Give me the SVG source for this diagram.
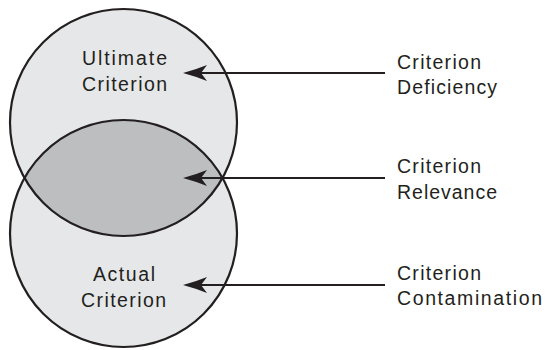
<svg xmlns="http://www.w3.org/2000/svg" width="546" height="350" viewBox="0 0 546 350">
  <style>
    .circle { fill: #e6e7e8; }
    .outline { fill: none; stroke: #231f20; stroke-width: 2.2; }
    .overlap { fill: #bcbec0; }
    .label { font-family: "Liberation Sans", Arial, Helvetica, sans-serif; font-size: 19.5px; fill: #231f20; }
    .arrow { fill: none; stroke: #231f20; stroke-width: 2.2; marker-end: url(#head); }
  </style>
  <defs>
    <marker id="head" markerUnits="userSpaceOnUse" viewBox="0 0 24 16" markerWidth="24" markerHeight="16" refX="17" refY="8" orient="auto">
      <path d="M24,8 Q11,4.5 0,0 L6,8 L0,16 Q11,11.5 24,8 Z" fill="#231f20"/>
    </marker>
  </defs>
  <rect width="546" height="350" fill="#ffffff"/>

  <!-- Ultimate criterion circle -->
  <g id="ultimate-criterion">
    <circle class="circle" cx="123.5" cy="122.5" r="113.5"/>
  </g>

  <!-- Actual criterion circle -->
  <g id="actual-criterion">
    <circle class="circle" cx="123.5" cy="233.5" r="113.5"/>
  </g>

  <!-- Shared region of the two circles -->
  <g id="criterion-overlap">
    <path class="overlap" d="M24.5,178 A113.5,113.5 0 0 1 222.5,178 A113.5,113.5 0 0 1 24.5,178 Z"/>
  </g>

  <!-- Circle outlines drawn on top of the fills -->
  <g id="outlines">
    <circle class="outline" cx="123.5" cy="122.5" r="113.5"/>
    <circle class="outline" cx="123.5" cy="233.5" r="113.5"/>
  </g>

  <g id="ultimate-label">
    <text class="label" x="82" y="64.5" textLength="85" lengthAdjust="spacing">Ultimate</text>
    <text class="label" x="82" y="90.5" textLength="85" lengthAdjust="spacing">Criterion</text>
  </g>

  <g id="actual-label">
    <text class="label" x="93" y="281" textLength="62" lengthAdjust="spacing">Actual</text>
    <text class="label" x="81" y="307" textLength="85" lengthAdjust="spacing">Criterion</text>
  </g>

  <g id="deficiency">
    <text class="label" x="397" y="68.5" textLength="84" lengthAdjust="spacing">Criterion</text>
    <text class="label" x="397" y="94" textLength="100" lengthAdjust="spacing">Deficiency</text>
  </g>

  <g id="relevance">
    <text class="label" x="397" y="173" textLength="84" lengthAdjust="spacing">Criterion</text>
    <text class="label" x="397" y="199" textLength="100" lengthAdjust="spacing">Relevance</text>
  </g>

  <g id="contamination">
    <text class="label" x="397" y="279.5" textLength="84" lengthAdjust="spacing">Criterion</text>
    <text class="label" x="397" y="305" textLength="145" lengthAdjust="spacing">Contamination</text>
  </g>

  <!-- Connectors -->
  <g id="connectors">
    <line class="arrow" x1="385" y1="73" x2="190" y2="73"/>
    <line class="arrow" x1="385" y1="178" x2="190" y2="178"/>
    <line class="arrow" x1="385" y1="285" x2="190" y2="285"/>
  </g>
</svg>
